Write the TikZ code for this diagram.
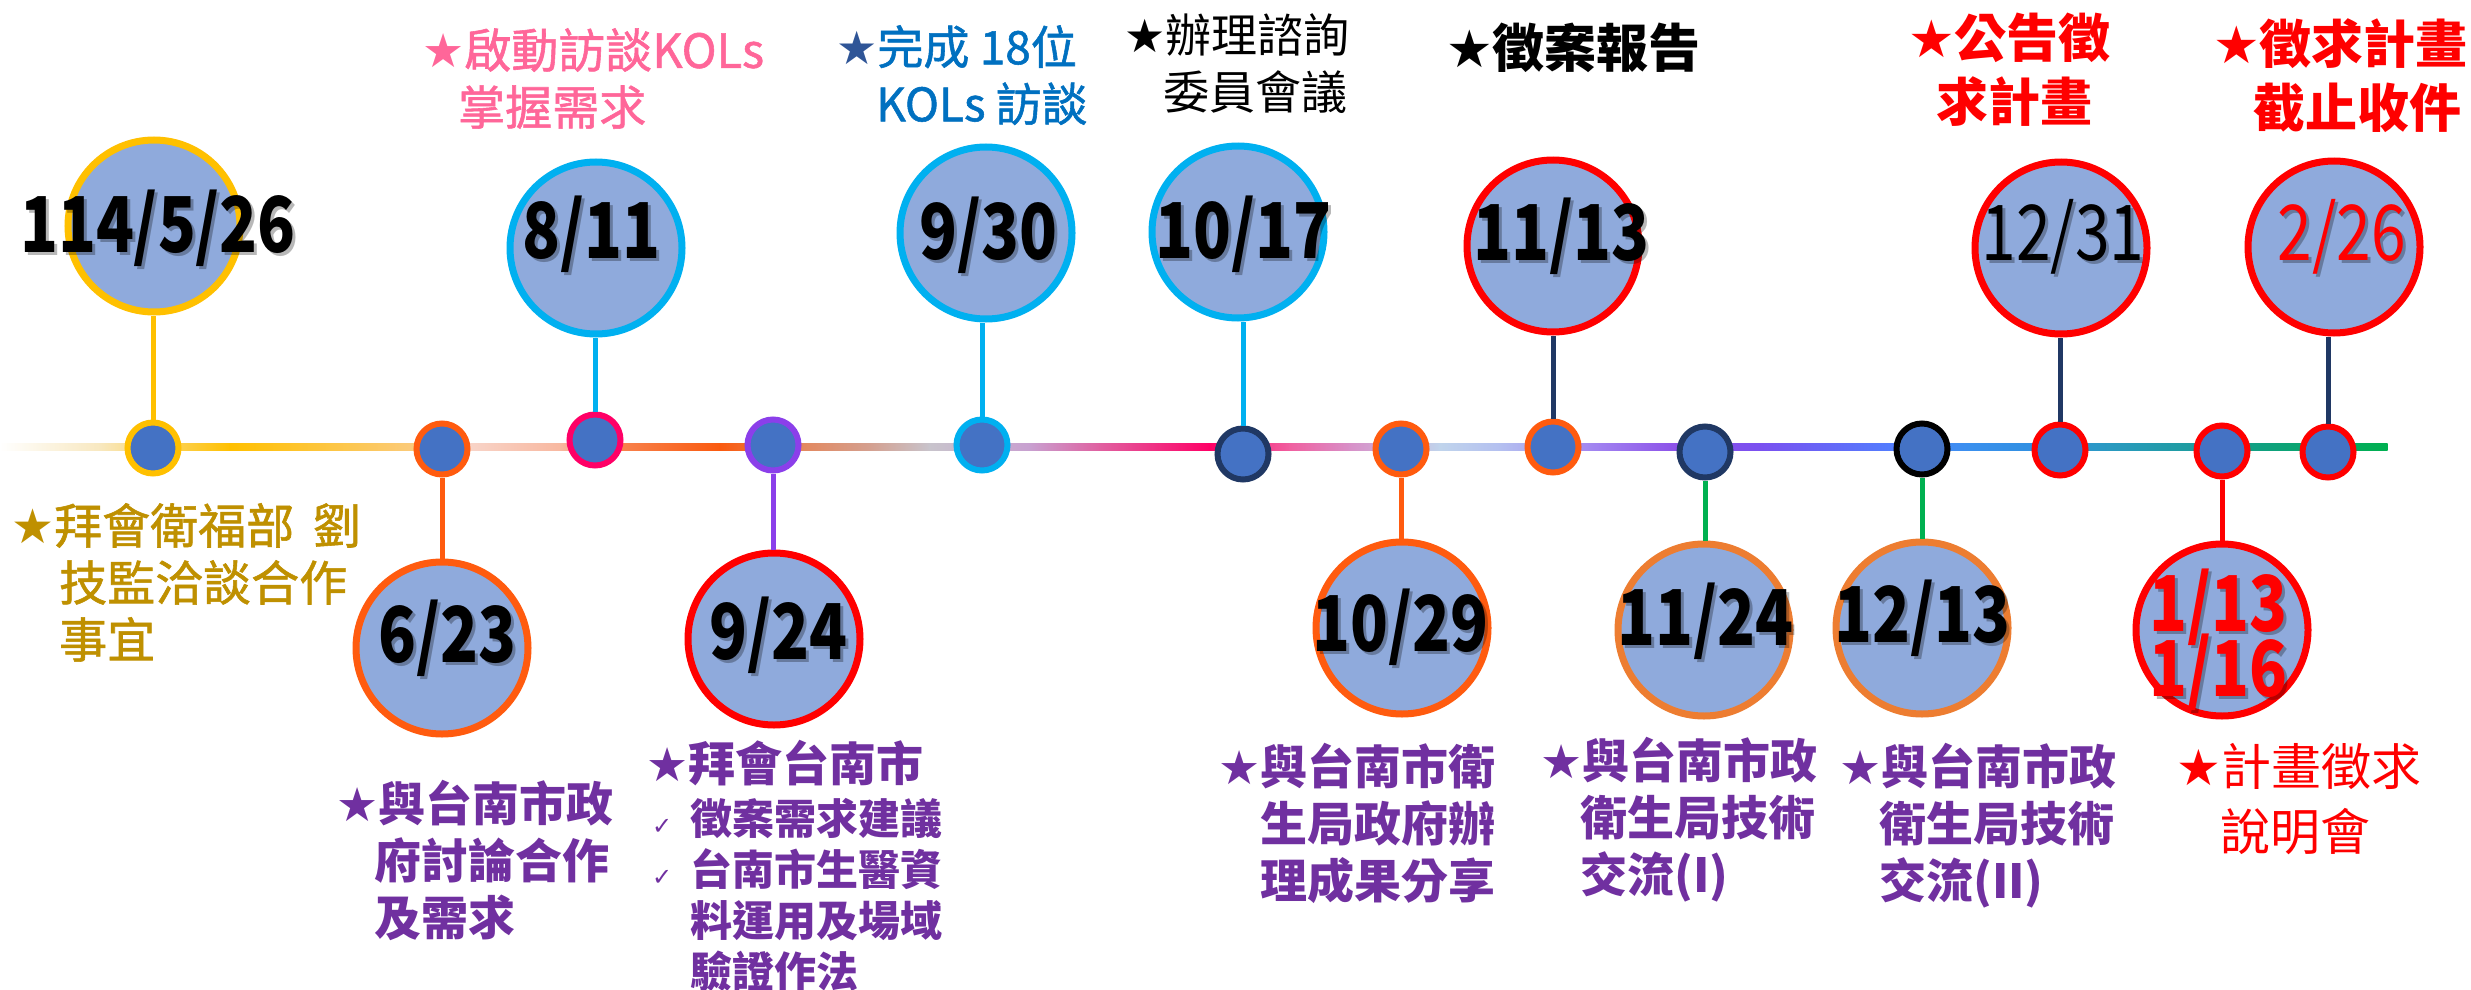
\documentclass[tikz,border=0pt]{standalone}
\usepackage{fontspec}
\setmainfont{Noto Sans CJK TC}
\newfontfamily\medf[FakeBold=1.2]{Noto Sans CJK TC}
\newfontfamily\dv{DejaVu Sans}
\newfontfamily\dtf[FakeStretch=0.81]{Noto Sans CJK TC}
\definecolor{bigfill}{HTML}{8FAADC}
\definecolor{dotfill}{HTML}{4472C4}
\definecolor{cgold}{HTML}{FFC000}
\definecolor{corange}{HTML}{FF5B0F}
\definecolor{corange2}{HTML}{ED7D31}
\definecolor{ccyan}{HTML}{00B0F0}
\definecolor{cmag}{HTML}{FF0066}
\definecolor{cpurp}{HTML}{8B3FEA}
\definecolor{cnavy}{HTML}{203864}
\definecolor{cgreen}{HTML}{00B050}
\definecolor{cred}{HTML}{FF0000}
\definecolor{tgold}{HTML}{BF9000}
\definecolor{tpink}{HTML}{FF6699}
\definecolor{tblue}{HTML}{0070C0}
\definecolor{tstarblue}{HTML}{2F5597}
\definecolor{tpurple}{HTML}{7030A0}
% timeline colours
\definecolor{l0}{HTML}{FFFFFF}
\definecolor{l1}{HTML}{F8E8C0}
\definecolor{l2}{HTML}{FFC000}
\definecolor{l3}{HTML}{FBCB80}
\definecolor{l4}{HTML}{F8D4C8}
\definecolor{l5}{HTML}{F8B8A0}
\definecolor{l6}{HTML}{F78A5A}
\definecolor{l7}{HTML}{FA5A0F}
\definecolor{l8}{HTML}{E8804E}
\definecolor{l9}{HTML}{D4A090}
\definecolor{l10}{HTML}{C8C4CC}
\definecolor{l11}{HTML}{C8A0D0}
\definecolor{l12}{HTML}{E060A0}
\definecolor{l13}{HTML}{FF0066}
\definecolor{l14}{HTML}{F060A0}
\definecolor{l15}{HTML}{D890C8}
\definecolor{l16}{HTML}{C0D4EC}
\definecolor{l17}{HTML}{B4C0F0}
\definecolor{l18}{HTML}{A080F0}
\definecolor{l19}{HTML}{8B4FE8}
\definecolor{l20}{HTML}{7A50F0}
\definecolor{l21}{HTML}{5080FF}
\definecolor{l22}{HTML}{3A90EE}
\definecolor{l23}{HTML}{3090E0}
\definecolor{l24}{HTML}{2A9AC0}
\definecolor{l25}{HTML}{1E9CA0}
\definecolor{l26}{HTML}{10A080}
\definecolor{l27}{HTML}{00B050}
\newcommand\st{{\dv ★}}
\newcommand\fs[2]{\fontsize{#1}{#2}\selectfont}
\newcommand\ck{\makebox[38pt][l]{\dv\mdseries\fontsize{24}{24}\selectfont ✓}}
% date text with a soft drop shadow inside the same node
\newcommand\dt[1]{\rlap{\hspace{3pt}\raisebox{-3pt}{\pgfsetfillopacity{0.28}\textcolor{black}{#1}}}\pgfsetfillopacity{1}#1}
\begin{document}
\begin{tikzpicture}[x=1pt,y=-1pt,
  big/.style={circle,draw,line width=7pt,fill=bigfill,minimum size=172pt,inner sep=0pt},
  dot/.style={circle,draw,line width=6pt,fill=dotfill,minimum size=51pt,inner sep=0pt},
  stem/.style={line width=5pt},
  txt/.style={anchor=north west,inner sep=0pt,align=left},
  date/.style={anchor=base,inner sep=0pt,font={\dtf\bfseries\fontsize{77}{64}\selectfont}},
  dater/.style={anchor=base,inner sep=0pt,font={\dtf\mdseries\fontsize{77}{64}\selectfont}}]
\fill[white] (0,0) rectangle (2471,990);
\useasboundingbox (0,0) rectangle (2471,990);
% timeline
\foreach \xa/\ca/\xb/\cb in {0/l0/100/l1,100/l1/230/l2,230/l2/420/l3,420/l3/470/l4,470/l4/560/l5,560/l5/600/l6,600/l6/720/l7,720/l7/780/l8,780/l8/870/l9,870/l9/930/l10,930/l10/1030/l11,1030/l11/1100/l12,1100/l12/1210/l13,1210/l13/1290/l14,1290/l14/1350/l15,1350/l15/1440/l16,1440/l16/1500/l17,1500/l17/1600/l18,1600/l18/1680/l19,1680/l19/1760/l20,1760/l20/1900/l21,1900/l21/1970/l22,1970/l22/2040/l23,2040/l23/2110/l24,2110/l24/2190/l25,2190/l25/2260/l26,2260/l26/2387/l27}
  \shade[left color=\ca,right color=\cb] (\xa-0.5,443.5) rectangle (\xb+0.5,450.5);
% big circles
\node[big,draw=cgold]    (c1)  at (154,226) {};
\node[big,draw=corange]  (c2)  at (442,648) {};
\node[big,draw=ccyan]    (c3)  at (596,248) {};
\node[big,draw=cred]     (c4)  at (774,639) {};
\node[big,draw=ccyan]    (c5)  at (986,233) {};
\node[big,draw=ccyan]    (c6)  at (1238,232) {};
\node[big,draw=corange]  (c7)  at (1402,628) {};
\node[big,draw=cred]     (c8)  at (1553,246) {};
\node[big,draw=corange2] (c9)  at (1704,630) {};
\node[big,draw=corange2] (c10) at (1922,628) {};
\node[big,draw=cred]     (c11) at (2061,248) {};
\node[big,draw=cred]     (c12) at (2222,630) {};
\node[big,draw=cred]     (c13) at (2334,247) {};
% dots
\node[dot,draw=cgold]   (d1)  at (153,448) {};
\node[dot,draw=corange] (d2)  at (442,449) {};
\node[dot,draw=cmag]    (d3)  at (595,440) {};
\node[dot,draw=cpurp]   (d4)  at (773,445) {};
\node[dot,draw=ccyan]   (d5)  at (982,445) {};
\node[dot,draw=cnavy]   (d6)  at (1243,454) {};
\node[dot,draw=corange] (d7)  at (1401,449) {};
\node[dot,draw=corange] (d8)  at (1553,447) {};
\node[dot,draw=cnavy]   (d9)  at (1705,452) {};
\node[dot,draw=black]   (d10) at (1922,449) {};
\node[dot,draw=cred]    (d11) at (2060,450) {};
\node[dot,draw=cred]    (d12) at (2222,451) {};
\node[dot,draw=cred]    (d13) at (2328,452) {};
% stems
\draw[stem,cgold]   (d1.north)  -- (d1.north |- c1.south);
\draw[stem,corange] (d2.south)  -- (d2.south |- c2.north);
\draw[stem,ccyan]   (d3.north)  -- (d3.north |- c3.south);
\draw[stem,cpurp]   (d4.south)  -- (d4.south |- c4.north);
\draw[stem,ccyan]   (d5.north)  -- (d5.north |- c5.south);
\draw[stem,ccyan]   (d6.north)  -- (d6.north |- c6.south);
\draw[stem,corange] (d7.south)  -- (d7.south |- c7.north);
\draw[stem,cnavy]   (d8.north)  -- (d8.north |- c8.south);
\draw[stem,cgreen]  (d9.south)  -- (d9.south |- c9.north);
\draw[stem,cgreen]  (d10.south) -- (d10.south |- c10.north);
\draw[stem,cnavy]   (d11.north) -- (d11.north |- c11.south);
\draw[stem,cred]    (d12.south) -- (d12.south |- c12.north);
\draw[stem,cnavy]   (d13.north) -- (d13.north |- c13.south);
% dates
\node[date] (t1) at (158,252) {\dt{114/5/26}};
\node[date] (t2) at (447,662) {\dt{6/23}};
\node[date] (t3) at (591,258) {\dt{8/11}};
\node[date] (t4) at (778,659) {\dt{9/24}};
\node[date] (t5) at (988,259) {\dt{9/30}};
\node[date] (t6) at (1243,258) {\dt{10/17}};
\node[date] (t7) at (1400,651) {\dt{10/29}};
\node[date] (t8) at (1561,260) {\dt{11/13}};
\node[date] (t9) at (1705,645) {\dt{11/24}};
\node[date] (t10) at (1922,642) {\dt{12/13}};
\node[dater] (t11) at (2063,260) {\dt{12/31}};
\node[date,text=cred] (t12) at (2218,631) {\dt{1/13}};
\node[date,text=cred] (t12b) at (2218,696) {\dt{1/16}};
\node[dater,text=cred] (t13) at (2342,260) {\dt{2/26}};
% labels
\node[txt,text=tgold,font=\medf\fs{48}{57}] (lA) at (11,503)
  {\st 拜會衛福部\hspace{8pt} 劉\\\hspace*{48pt}技監洽談合作\\\hspace*{48pt}事宜};
\node[txt,text=tpink,font=\medf\fs{47}{57}] (lB) at (422,28)
  {\st 啟動訪談KOLs\\\hspace*{36pt}掌握需求};
\node[txt,text=tblue,font=\medf\fs{46}{57}] (lC) at (836,25)
  {\textcolor{tstarblue}{\st}完成 18位\\\hspace*{40pt}KOLs 訪談};
\node[txt,text=black,font=\fs{46}{57}] (lD) at (1124,13)
  {\st 辦理諮詢\\\hspace*{39pt}委員會議};
\node[txt,text=black,font=\bfseries\fs{52}{64}] (lE) at (1446,23)
  {\st 徵案報告};
\node[txt,text=cred,font=\bfseries\fs{52}{64}] (lF) at (1908,13)
  {\st 公告徵\\\hspace*{28pt}求計畫};
\node[txt,text=cred,font=\bfseries\fs{52}{64}] (lG) at (2213,18)
  {\st 徵求計畫\\\hspace*{40pt}截止收件};
\node[txt,text=tpurple,font=\bfseries\fs{47}{57}] (lH) at (336,780)
  {\st 與台南市政\\\hspace*{38pt}府討論合作\\\hspace*{38pt}及需求};
\node[txt,text=tpurple,font=\bfseries\fs{47}{57}] (lI) at (646,740)
  {\st 拜會台南市};
\node[txt,text=tpurple,font=\bfseries\fs{42}{51}] (lI2) at (652,798)
  {\ck 徵案需求建議\\\ck 台南市生醫資\\\hspace*{38pt}料運用及場域\\\hspace*{38pt}驗證作法};
\node[txt,text=tpurple,font=\bfseries\fs{47}{57}] (lJ) at (1218,743)
  {\st 與台南市衛\\\hspace*{42pt}生局政府辦\\\hspace*{42pt}理成果分享};
\node[txt,text=tpurple,font=\bfseries\fs{47}{57}] (lK) at (1540,737)
  {\st 與台南市政\\\hspace*{40pt}衛生局技術\\\hspace*{40pt}交流(I)};
\node[txt,text=tpurple,font=\bfseries\fs{47}{57}] (lL) at (1839,743)
  {\st 與台南市政\\\hspace*{40pt}衛生局技術\\\hspace*{40pt}交流(II)};
\node[txt,text=cred,font=\fs{50}{65}] (lM) at (2176,743)
  {\st 計畫徵求\\\hspace*{44pt}說明會};
\end{tikzpicture}
\end{document}
